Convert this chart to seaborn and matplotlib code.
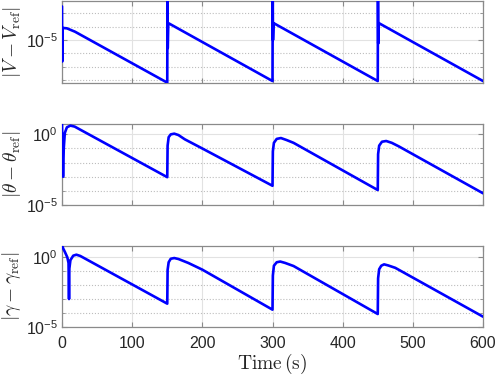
import matplotlib
matplotlib.use("Agg")
import matplotlib.pyplot as plt
import numpy as np
import seaborn as sns
from matplotlib.ticker import FixedLocator, FixedFormatter, NullFormatter

# Breakpoints. Values are log10 of the absolute error.
t_v = [0, 0.3, 1.0, 7, 18.5, 150, 150.3, 150.7, 151.5, 300, 300.3, 300.7, 301.5,
       450, 450.3, 450.7, 451.5, 600]
log_v = [-2.5, -6.6, -4.1, -4.13, -4.38, -8.17, -1.5, -5.6, -3.74, -8.05, -1.5, -5.0, -3.74,
         -8.05, -1.5, -5.25, -3.74, -8.05]

t_theta = [0, 1.5, 2.5, 4, 7, 12, 18, 150,
           150.5, 152, 155, 160, 166, 175, 200, 300,
           300.5, 302, 306, 312, 320, 330, 450,
           450.5, 452, 456, 462, 470, 480, 600]
log_theta = [0.72, -3.0, -1.0, 0.1, 0.5, 0.62, 0.55, -3.03,
             -0.8, -0.2, 0.0, 0.05, -0.05, -0.35, -1.0, -3.64,
             -1.2, -0.6, -0.32, -0.26, -0.4, -0.6, -3.94,
             -1.4, -0.8, -0.52, -0.47, -0.6, -0.85, -4.17]

t_gamma = [0, 2, 4, 7.6, 9.3, 10, 10.5, 12, 16, 20.5, 26, 150,
           150.5, 152, 155, 160, 166, 180, 200, 300,
           300.5, 302, 306, 311, 318, 330, 450,
           450.5, 452, 455, 459, 465, 475, 600]
log_gamma = [0.86, 0.6, 0.4, 0.0, -0.4, -2.98, -0.8, -0.2, 0.12, 0.19, 0.1, -3.31,
             -0.9, -0.35, -0.1, -0.05, -0.12, -0.4, -0.88, -3.74,
             -1.3, -0.6, -0.35, -0.3, -0.4, -0.62, -4.05,
             -1.5, -0.85, -0.6, -0.5, -0.58, -0.75, -4.24]

x_ticks = [0, 100, 200, 300, 400, 500, 600]

sns.set_theme(style="ticks")
plt.rcParams["font.family"] = ["Liberation Sans", "DejaVu Sans"]
plt.rcParams["mathtext.fontset"] = "cm"

LINE = "#0000ff"
EDGE = "#8a8a8a"


def draw_panel(ax, t, logs, ylim_exp, majors, minors, ylabel, show_x):
    sns.lineplot(x=t, y=10.0 ** np.array(logs), ax=ax, color=LINE, linewidth=1.9,
                 sort=False, estimator=None, zorder=3)
    ax.set_yscale("log")
    ax.set_xlim(0, 600)
    ax.set_ylim(10.0 ** ylim_exp[0], 10.0 ** ylim_exp[1])
    ax.xaxis.set_major_locator(FixedLocator(x_ticks))
    ax.yaxis.set_major_locator(FixedLocator([10.0 ** e for e in majors]))
    ax.yaxis.set_major_formatter(
        FixedFormatter([r"$\mathdefault{10^{%d}}$" % e for e in majors]))
    ax.yaxis.set_minor_locator(FixedLocator([10.0 ** e for e in minors]))
    ax.yaxis.set_minor_formatter(NullFormatter())
    ax.xaxis.set_minor_locator(FixedLocator([]))
    ax.grid(True, which="major", color="#e2e2e2", linestyle="-", linewidth=0.8)
    ax.grid(True, which="minor", axis="y", color="#bdbdbd", linestyle=":", linewidth=0.8)
    ax.set_axisbelow(True)
    for sp in ax.spines.values():
        sp.set_visible(True)
        sp.set_color(EDGE)
        sp.set_linewidth(0.9)
    ax.tick_params(which="both", direction="in", top=True, right=True, color=EDGE,
                   labelsize=11.5, labelcolor="#262626")
    ax.tick_params(which="major", length=3.5, width=0.8)
    ax.tick_params(which="minor", length=2, width=0.6)
    ax.tick_params(axis="y", pad=3)
    ax.tick_params(axis="x", pad=6)
    if show_x:
        ax.set_xticklabels([str(v) for v in x_ticks])
        ax.set_xlabel(r"$\mathrm{Time\,(s)}$", fontsize=14, labelpad=1)
    else:
        ax.set_xticklabels([])
        ax.set_xlabel("")
    ax.set_ylabel(ylabel, fontsize=14)
    ax.yaxis.set_label_coords(-0.093, 0.5)


fig = plt.figure(figsize=(4.98, 3.77), dpi=100)
ax1 = fig.add_axes([0.1245, 0.779, 0.8454, 0.2175])
ax2 = fig.add_axes([0.1245, 0.4562, 0.8454, 0.214])
ax3 = fig.add_axes([0.1245, 0.1318, 0.8454, 0.2149])

draw_panel(ax1, t_v, log_v, (-8.22, -2.12), [-5], [-8, -7, -6, -4, -3],
           r"$|V - V_{\mathrm{ref}}|$", False)
draw_panel(ax2, t_theta, log_theta, (-5, 0.71), [-5, 0], [-4, -3, -2, -1],
           r"$|\theta - \theta_{\mathrm{ref}}|$", False)
draw_panel(ax3, t_gamma, log_gamma, (-5, 0.79), [-5, 0], [-4, -3, -2, -1],
           r"$|\gamma - \gamma_{\mathrm{ref}}|$", True)

fig.savefig("out.png", dpi=100)
